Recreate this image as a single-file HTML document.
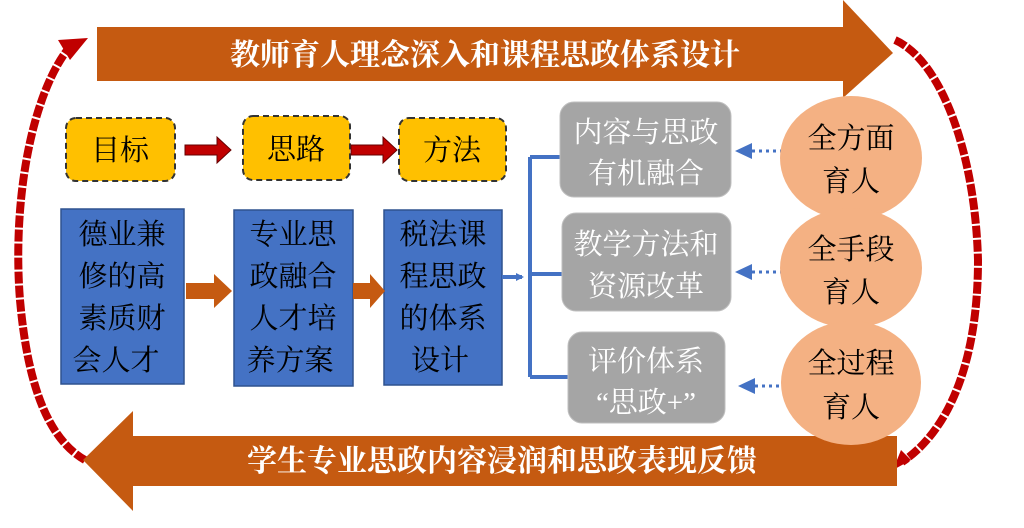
<!DOCTYPE html>
<html><head><meta charset="utf-8"><style>
html,body{margin:0;padding:0;background:#fff;}
svg text{font-family:"Liberation Serif","Noto Serif CJK SC",serif;}
</style></head><body>
<svg width="1024" height="523" viewBox="0 0 1024 523" xmlns="http://www.w3.org/2000/svg">
<defs>
<marker id="bh" markerWidth="8" markerHeight="8" refX="6" refY="4" orient="auto" markerUnits="userSpaceOnUse"><path d="M0,0 L8,4 L0,8 Z" fill="#4472c4"/></marker>
</defs>
<path d="M72,44 C32,90 12,200 20,300 C28,390 50,440 85,460" fill="none" stroke="#c00000" stroke-width="8" stroke-dasharray="12,2"/>
<path d="M58,40 L88,38 L70,60 Z" fill="#c00000"/>
<path d="M895,40 C940,60 975,150 978,260 C978,360 950,430 902,462" fill="none" stroke="#c00000" stroke-width="8" stroke-dasharray="12,2"/>
<path d="M893,470 l8,-20 10,10 z" fill="#c00000"/>
<path d="M97,27 H843 V0 L893,53 L843,98 V81 H97 Z" fill="#c55a11"/>
<text x="485" y="65" font-size="30" fill="#fff" text-anchor="middle" font-weight="bold">教师育人理念深入和课程思政体系设计</text>
<path d="M897,436 H133 V411 L83,460 L133,511 V486 H897 Z" fill="#c55a11"/>
<text x="502" y="471" font-size="30" fill="#fff" text-anchor="middle" font-weight="bold">学生专业思政内容浸润和思政表现反馈</text>
<g fill="#ffc000" stroke="#333" stroke-width="2" stroke-dasharray="6,4">
<rect x="66" y="118" width="109" height="63" rx="10"/>
<rect x="243" y="116" width="107" height="64" rx="10"/>
<rect x="399" y="118" width="107" height="63" rx="10"/>
</g>
<g font-size="29" fill="#000" text-anchor="middle">
<text x="120" y="160">目标</text><text x="296" y="159">思路</text><text x="452" y="160">方法</text>
</g>
<path d="M185,145 H217 V137 L231,150 L217,163 V155 H185 Z" fill="#c00000" stroke="#600" stroke-width="1"/>
<path d="M351,145 H383 V137 L397,150 L383,163 V155 H351 Z" fill="#c00000" stroke="#600" stroke-width="1"/>
<g fill="#4472c4" stroke="#2f528f" stroke-width="1.5">
<rect x="61" y="209" width="123" height="175"/>
<rect x="234" y="210" width="119" height="176"/>
<rect x="384" y="210" width="118" height="175"/>
</g>
<g font-size="29" fill="#000" text-anchor="middle">
<text x="122" y="244">德业兼</text><text x="122" y="286">修的高</text><text x="122" y="328">素质财</text><text x="116" y="370">会人才</text>
<text x="293" y="244">专业思</text><text x="293" y="286">政融合</text><text x="293" y="328">人才培</text><text x="290" y="370">养方案</text>
<text x="443" y="244">税法课</text><text x="443" y="286">程思政</text><text x="443" y="328">的体系</text><text x="440" y="370">设计</text>
</g>
<path d="M186,283 H214 V274 L232,291 L214,308 V299 H186 Z" fill="#c55a11"/>
<path d="M353,283 H370 V274 L385,291 L370,308 V299 H353 Z" fill="#c55a11"/>
<g stroke="#4472c4" stroke-width="4" fill="none">
<line x1="530" y1="157" x2="530" y2="377"/>
<line x1="530" y1="157" x2="561" y2="157"/>
<line x1="530" y1="274" x2="563" y2="274"/>
<line x1="530" y1="377" x2="569" y2="377"/>
<line x1="502" y1="277" x2="522" y2="277" marker-end="url(#bh)"/>
</g>
<g fill="#a5a5a5" stroke="#bfbfbf" stroke-width="1">
<rect x="560" y="102" width="171" height="95" rx="14"/>
<rect x="562" y="213" width="169" height="98" rx="14"/>
<rect x="568" y="332" width="157" height="91" rx="14"/>
</g>
<g font-size="29" fill="#fff" text-anchor="middle">
<text x="646" y="142">内容与思政</text><text x="646" y="183">有机融合</text>
<text x="646" y="254">教学方法和</text><text x="646" y="296">资源改革</text>
<text x="646" y="371">评价体系</text><text x="646" y="412">“思政+”</text>
</g>
<g stroke="#4472c4" stroke-width="3" stroke-dasharray="3,4" fill="none">
<line x1="752" y1="151" x2="802" y2="151"/>
<line x1="752" y1="272" x2="802" y2="272"/>
<line x1="755" y1="386" x2="802" y2="386"/>
</g>
<g fill="#4472c4">
<path d="M735,151 L752,143 L752,159 Z"/>
<path d="M735,272 L752,264 L752,280 Z"/>
<path d="M738,386 L755,378 L755,394 Z"/>
</g>
<g fill="#f4b183">
<ellipse cx="851" cy="158" rx="71" ry="62"/>
<ellipse cx="851" cy="268" rx="71" ry="60"/>
<ellipse cx="851" cy="383" rx="70" ry="62"/>
</g>
<g font-size="29" fill="#000" text-anchor="middle">
<text x="851" y="148">全方面</text><text x="851" y="191">育人</text>
<text x="851" y="259">全手段</text><text x="851" y="302">育人</text>
<text x="851" y="373">全过程</text><text x="851" y="417">育人</text>
</g>
</svg>
</body></html>
